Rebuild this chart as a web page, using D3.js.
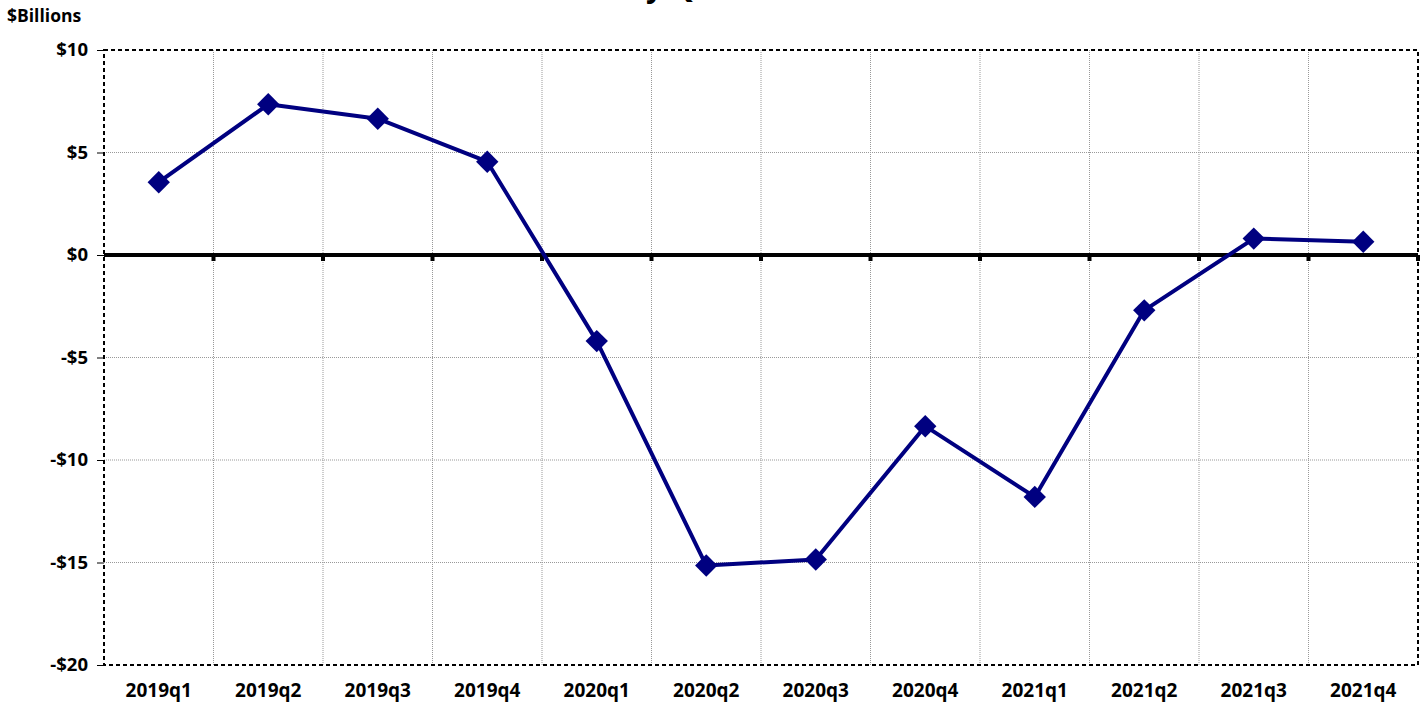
<!DOCTYPE html>
<html>
<head>
<meta charset="utf-8">
<script src="https://cdn.jsdelivr.net/npm/d3@7"></script>
<style>
  body { margin: 0; background: #fff; }
  text { font-family: "Open Sans", sans-serif; font-weight: bold; fill: #000; }
</style>
</head>
<body>
<script>
// quarters and values ($ billions)
var quarters = ["2019q1", "2019q2", "2019q3", "2019q4", "2020q1", "2020q2",
                "2020q3", "2020q4", "2021q1", "2021q2", "2021q3", "2021q4"];
var values = [3.55, 7.35, 6.65, 4.55, -4.2, -15.15, -14.85, -8.35, -11.8, -2.7, 0.8, 0.65];
var yTicks = [-20, -15, -10, -5, 0, 5, 10];

var width = 1423, height = 707;
var margin = {left: 104, right: 5, top: 50, bottom: 42};

var svg = d3.select("body").append("svg")
    .attr("width", width)
    .attr("height", height);

// title, mostly cut off at the top like the original
svg.append("text")
    .attr("x", 618)
    .attr("y", -3)
    .attr("text-anchor", "middle")
    .style("font-size", "30px")
    .text("Net Income by Quarter");

var x = d3.scaleBand()
    .domain(quarters)
    .range([margin.left, width - margin.right]);

var y = d3.scaleLinear()
    .domain([-20, 10])
    .range([height - margin.bottom, margin.top]);

// gridlines
svg.append("g").selectAll("line")
    .data(yTicks.slice(1, -1))
    .enter().append("line")
    .attr("x1", margin.left).attr("x2", width - margin.right)
    .attr("y1", function(d) { return y(d); })
    .attr("y2", function(d) { return y(d); })
    .attr("stroke", "#999").attr("stroke-width", 1)
    .attr("stroke-dasharray", "1,1");

svg.append("g").selectAll("line")
    .data(quarters.slice(0, -1))
    .enter().append("line")
    .attr("x1", function(d) { return x(d) + x.bandwidth(); })
    .attr("x2", function(d) { return x(d) + x.bandwidth(); })
    .attr("y1", margin.top).attr("y2", height - margin.bottom)
    .attr("stroke", "#999").attr("stroke-width", 1)
    .attr("stroke-dasharray", "1,1");

// plot border, dashed
svg.append("rect")
    .attr("x", margin.left).attr("y", margin.top)
    .attr("width", width - margin.left - margin.right)
    .attr("height", height - margin.top - margin.bottom)
    .attr("fill", "none")
    .attr("stroke", "#000").attr("stroke-width", 2)
    .attr("stroke-dasharray", "4,3");

// y axis
var yAxis = svg.append("g")
    .attr("transform", "translate(" + margin.left + ",0)")
    .call(d3.axisLeft(y).tickValues(yTicks).tickSize(7).tickPadding(9)
      .tickFormat(function(d) { return (d < 0 ? "-$" : "$") + Math.abs(d); }));
yAxis.select(".domain").remove();
yAxis.selectAll("text").style("font-size", "18.5px")
    .style("font-family", "'Open Sans', sans-serif").style("font-weight", "bold");

svg.append("text")
    .attr("x", 7).attr("y", 22)
    .style("font-size", "17.5px")
    .text("$Billions");

// x labels
svg.append("g").selectAll("text")
    .data(quarters)
    .enter().append("text")
    .attr("x", function(d) { return x(d) + x.bandwidth() / 2; })
    .attr("y", 697)
    .attr("text-anchor", "middle")
    .style("font-size", "19px")
    .text(function(d) { return d; });

// zero line with tick marks
svg.append("line")
    .attr("x1", margin.left).attr("x2", width - margin.right)
    .attr("y1", y(0)).attr("y2", y(0))
    .attr("stroke", "#000").attr("stroke-width", 4);

svg.append("g").selectAll("rect")
    .data(quarters)
    .enter().append("rect")
    .attr("x", function(d) { return x(d) + x.bandwidth() - 2; })
    .attr("y", y(0))
    .attr("width", 4).attr("height", 6)
    .attr("fill", "#000");

// the series
var line = d3.line()
    .x(function(d, i) { return x(quarters[i]) + x.bandwidth() / 2; })
    .y(function(d) { return y(d); });

svg.append("path")
    .datum(values)
    .attr("d", line)
    .attr("fill", "none")
    .attr("stroke", "#000080")
    .attr("stroke-width", 4)
    .attr("stroke-linejoin", "round");

svg.append("g").selectAll("path")
    .data(values)
    .enter().append("path")
    .attr("d", d3.symbol().type(d3.symbolDiamond2).size(320))
    .attr("transform", function(d, i) {
      return "translate(" + (x(quarters[i]) + x.bandwidth() / 2) + "," + y(d) + ")";
    })
    .attr("fill", "#000080");
</script>
</body>
</html>
